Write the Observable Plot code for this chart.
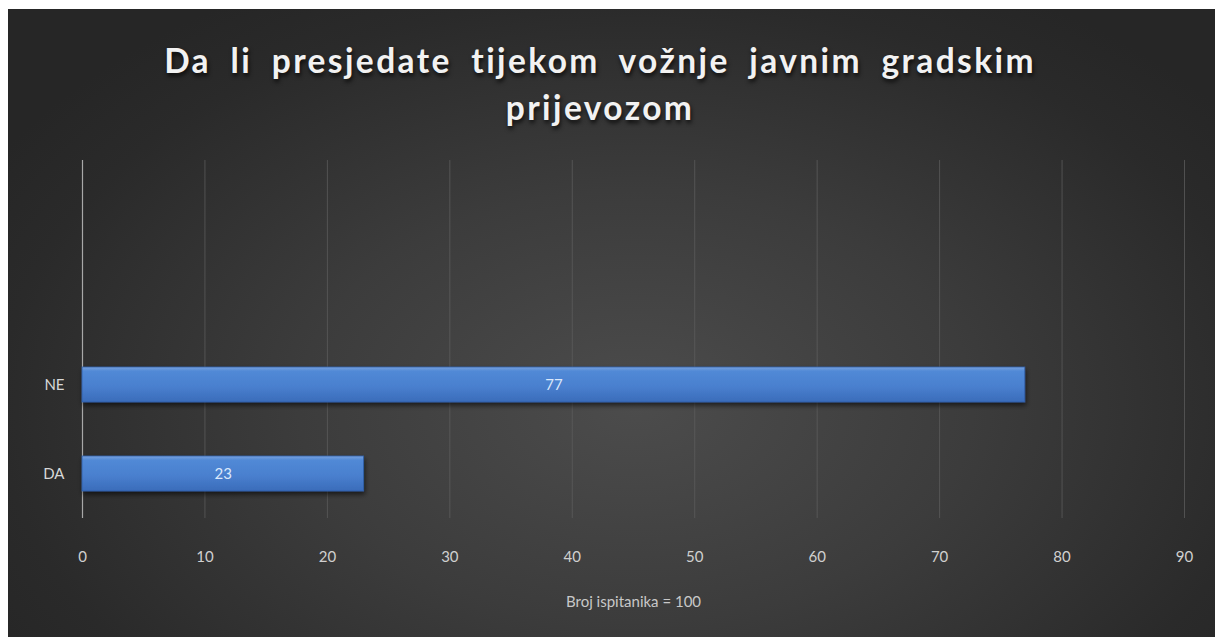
<!DOCTYPE html>
<html>
<head>
<meta charset="utf-8">
<script src="https://cdn.jsdelivr.net/npm/d3@7"></script>
<script src="https://cdn.jsdelivr.net/npm/@observablehq/plot@0.6"></script>
<style>
  html, body { margin: 0; padding: 0; background: #fff; overflow: hidden; }
  #wrap {
    position: absolute; left: 8px; top: 9px; width: 1207px; height: 640px;
    background: radial-gradient(ellipse 62% 75% at 52% 62%, #4c4c4c 0%, #3c3c3c 45%, #2a2a2a 85%, #262626 100%);
    font-family: Lato, "Open Sans", sans-serif;
  }
  #title {
    height: 131px; box-sizing: border-box; padding-top: 28px;
    text-align: center; color: #f2f2f2; font-weight: bold;
    font-size: 33.5px; line-height: 47px; letter-spacing: 2.4px; word-spacing: 9px;
    text-shadow: 1px 3px 4px rgba(0,0,0,0.75);
    width: 1184px;
  }
  svg { display: block; }
</style>
</head>
<body>
<div id="wrap">
  <div id="title"></div>
  <div id="chart"></div>
</div>
<script>
const titleLines = ["Da li presjedate tijekom vožnje javnim gradskim", "prijevozom"];
const categories = ["NE", "DA"];
const values = [77, 23];
const xTicks = [0, 10, 20, 30, 40, 50, 60, 70, 80, 90];
const xLabel = "Broj ispitanika = 100";

document.getElementById("title").innerHTML = titleLines.join("<br>");

const data = categories.map((c, i) => ({category: c, value: values[i]}));

const W = 1207, H = 497;
const chart = Plot.plot({
  width: W,
  height: H,
  marginTop: 20,
  marginBottom: 119,
  marginLeft: 74,
  marginRight: 31,
  style: {background: "transparent", color: "#d9d9d9", fontFamily: "Lato, 'Open Sans', sans-serif", fontSize: "14px", overflow: "visible"},
  x: {domain: [0, 90], ticks: xTicks},
  y: {domain: categories, range: [199, 378], paddingInner: 0.61, paddingOuter: 0.305},
  marks: [
    Plot.ruleX(xTicks.filter(d => d !== 0), {stroke: "#5e5e5e", strokeOpacity: 0.75, strokeWidth: 1}),
    Plot.ruleX([0], {stroke: "#a8a8a8", strokeWidth: 1.2}),
    Plot.barX(data, {x: "value", y: "category", fill: "url(#barGrad)", stroke: "#2f5ea8", strokeWidth: 0.8}),
    Plot.text(data, {x: d => d.value / 2, y: "category", text: d => String(d.value), fill: "#dbe8fb", fontSize: 15}),
    Plot.axisX({ticks: xTicks, tickSize: 0, tickPadding: 33, fill: "#d0d0d0", fontSize: 15, label: null}),
    Plot.axisY({tickSize: 0, tickPadding: 18, fill: "#d8d8d8", fontSize: 15, label: null}),
    Plot.text([xLabel], {frameAnchor: "bottom", dy: 88, fill: "#c8c8c8", fontSize: 15})
  ]
});

const ns = "http://www.w3.org/2000/svg";
const defs = document.createElementNS(ns, "defs");
defs.innerHTML = `
  <linearGradient id="barGrad" x1="0" y1="0" x2="0" y2="1">
    <stop offset="0%" stop-color="#7aa3df"/>
    <stop offset="12%" stop-color="#5189d6"/>
    <stop offset="55%" stop-color="#4a80cf"/>
    <stop offset="100%" stop-color="#3a6cba"/>
  </linearGradient>
  <filter id="barShadow" x="-5%" y="-30%" width="110%" height="180%">
    <feDropShadow dx="1" dy="3" stdDeviation="2.5" flood-color="#000" flood-opacity="0.6"/>
  </filter>`;
chart.insertBefore(defs, chart.firstChild);
chart.querySelectorAll("g[aria-label='bar'] rect").forEach(r => r.setAttribute("filter", "url(#barShadow)"));

document.getElementById("chart").appendChild(chart);
</script>
</body>
</html>
